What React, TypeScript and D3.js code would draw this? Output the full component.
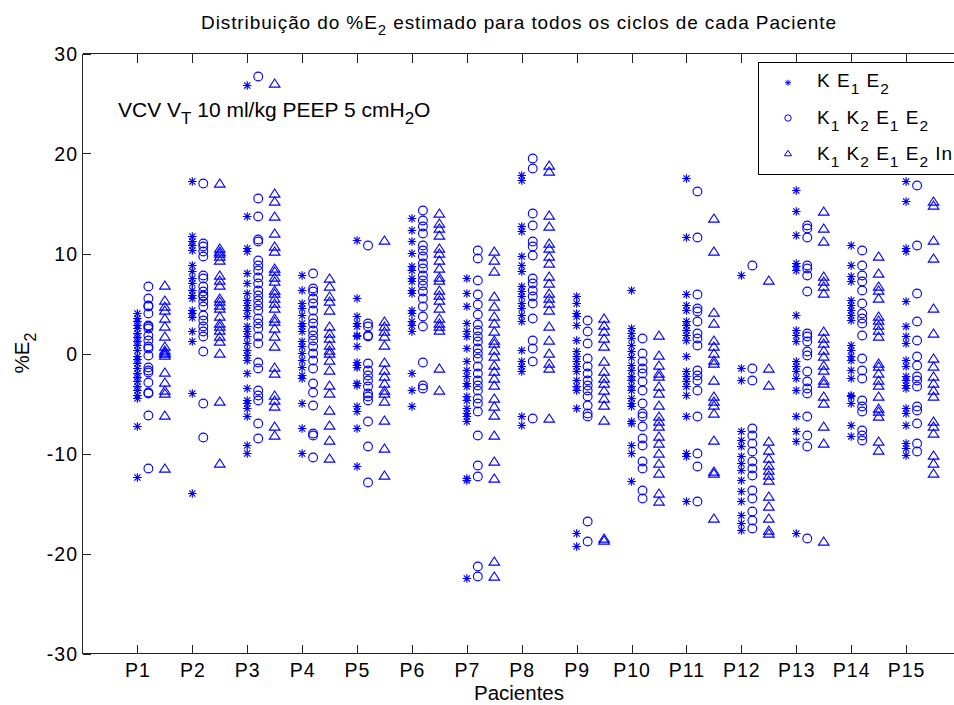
import React from "react";
import * as d3 from "d3";

const patients = ["P1","P2","P3","P4","P5","P6","P7","P8","P9","P10","P11","P12","P13","P14","P15"];
const yTicks = [-30, -20, -10, 0, 10, 20, 30];

// Series "K E1 E2" (asterisks), one array per patient
const seriesKE = [
  [4.0, 3.5, 3.2, 2.8, 2.5, 2.0, 1.6, 1.2, 0.8, 0.3, -0.3, -0.6, -1.0, -1.5, -2.0, -2.4, -2.8, -3.3, -3.7, -4.2, -4.5, -7.3, -12.4],
  [17.2, 11.7, 11.2, 10.8, 10.3, 8.8, 8.2, 7.5, 7.0, 6.3, 5.8, 5.5, 4.3, 4.0, 3.6, 2.2, 1.2, -4.0, -14.0],
  [26.8, 13.7, 10.5, 10.2, 8.0, 7.0, 6.0, 5.3, 4.8, 4.3, 3.7, 2.7, 2.2, 1.7, 1.0, 0.3, -0.2, -0.7, -2.0, -3.5, -4.7, -5.0, -5.5, -6.3, -9.2, -10.0],
  [7.8, 6.3, 5.0, 4.5, 3.8, 3.0, 2.7, 2.2, 1.2, 0.7, 0, -0.7, -1.4, -2.2, -2.5, -5.0, -7.5, -10.0],
  [11.3, 5.5, 3.7, 3.0, 2.7, 1.8, 1.7, 0.7, -0.9, -1.2, -1.4, -3.0, -3.2, -5.3, -5.8, -7.5, -11.3],
  [13.5, 12.3, 11.2, 10.0, 8.7, 8.3, 7.5, 7.2, 6.3, 6.0, 4.3, 4.0, 3.2, 2.8, 2.2, -2.0, -3.7, -5.3],
  [7.5, 6.0, 4.7, 3.0, 2.2, 1.7, 0.5, -0.8, -1.7, -2.3, -3.0, -3.3, -4.3, -4.7, -5.5, -6.0, -6.3, -6.8, -12.5, -12.7, -22.5],
  [17.8, 17.3, 12.7, 12.2, 9.7, 8.8, 8.2, 6.7, 6.2, 5.7, 5.0, 4.5, 3.8, 3.2, 0.3, -0.8, -1.3, -1.8, -6.3, -7.2],
  [5.7, 5.0, 4.0, 3.7, 2.8, 1.3, 0.2, -0.3, -0.8, -1.3, -1.8, -2.7, -3.3, -3.7, -5.5, -18.0, -19.3],
  [6.3, 2.5, 2.0, 1.5, 0.8, 0.2, -0.4, -1.2, -1.7, -2.3, -2.7, -3.3, -3.7, -4.5, -5.0, -5.3, -6.8, -7.0, -9.2, -10.0, -12.8],
  [17.5, 11.6, 5.9, 4.8, 4.3, 3.2, 2.8, 2.3, 1.8, 1.3, -0.3, -1.8, -2.3, -2.8, -3.3, -4.2, -6.3, -10.0, -10.3, -14.8],
  [7.8, -1.5, -2.7, -7.8, -8.7, -9.3, -10.3, -11.0, -11.7, -12.7, -13.8, -14.8, -16.2, -17.0, -17.7],
  [16.3, 14.2, 11.8, 9.0, 8.7, 8.3, 3.8, 2.3, 1.8, 1.2, -0.8, -1.3, -1.8, -2.5, -3.7, -6.3, -7.8, -8.8, -18.0],
  [10.8, 8.8, 7.7, 7.2, 5.3, 4.8, 4.3, 3.8, 3.3, 0.8, 0.3, -0.3, -0.7, -1.7, -2.5, -4.2, -4.3, -5.0, -7.2, -8.3],
  [17.2, 15.2, 10.5, 10.2, 5.2, 2.7, 1.7, 1.0, -0.7, -1.3, -2.3, -2.7, -3.2, -3.5, -5.5, -6.0, -7.2, -9.0, -9.5, -10.2],
];

// Series "K1 K2 E1 E2" (circles)
const seriesKKE = [
  [6.7, 5.5, 4.8, 4.7, 4.0, 2.8, 2.7, 2.5, 1.8, 1.3, 0.7, 0.5, -0.2, -1.4, -1.7, -1.9, -2.9, -3.9, -4.0, -6.2, -11.5],
  [17.0, 11.0, 10.7, 10.2, 9.7, 7.8, 7.5, 6.7, 6.2, 5.8, 5.7, 5.2, 4.7, 3.8, 3.3, 2.7, 2.2, 1.7, 0.2, -5.0, -8.4],
  [27.7, 15.5, 13.7, 11.4, 11.2, 9.3, 8.8, 8.3, 7.6, 7.0, 6.3, 5.8, 5.3, 4.8, 4.3, 3.5, 3.0, 2.5, 1.7, 1.0, -0.9, -1.5, -3.7, -4.2, -4.7, -7.0, -8.5],
  [8.0, 6.5, 6.2, 5.5, 5.0, 4.3, 3.5, 3.0, 2.3, 1.8, 1.3, 0.7, 0, -0.7, -1.5, -3.0, -3.9, -5.2, -8.0, -8.2, -10.4],
  [10.8, 3.0, 2.7, 1.8, 1.7, -1.0, -1.7, -2.2, -2.7, -3.3, -4.0, -4.3, -4.7, -6.8, -9.3, -12.9],
  [14.3, 13.3, 12.7, 12.0, 10.8, 10.3, 9.7, 9.0, 8.5, 7.8, 7.3, 6.8, 6.2, 5.5, 4.7, 3.7, 2.7, -0.9, -3.2, -3.5],
  [10.3, 9.5, 7.3, 5.9, 4.9, 3.9, 2.9, 2.3, 1.7, 1.2, 0.5, 0, -0.5, -1.3, -2.0, -2.7, -3.2, -3.7, -4.5, -5.0, -5.8, -8.2, -11.2, -12.3, -21.3, -22.3],
  [19.5, 18.5, 14.0, 12.8, 11.2, 10.7, 9.8, 7.5, 7.0, 6.3, 5.7, 5.0, 3.5, 1.3, 0.5, -0.8, -6.5],
  [3.3, 2.2, 1.0, -0.5, -1.3, -2.0, -2.7, -3.2, -3.7, -4.3, -5.2, -6.0, -6.3, -16.8, -18.8],
  [1.5, 0, -0.8, -1.5, -2.0, -2.8, -3.7, -5.0, -6.0, -6.3, -7.3, -8.5, -9.2, -10.8, -11.5, -13.7, -14.5],
  [16.2, 11.6, 5.9, 4.5, 4.2, 3.2, 2.0, 1.5, 0.8, -1.7, -2.2, -2.7, -3.7, -6.3, -10.0, -11.3, -14.8],
  [8.8, -1.5, -2.7, -7.5, -8.2, -9.0, -9.8, -10.8, -11.5, -12.2, -13.7, -14.5, -15.8, -16.7, -17.5],
  [12.8, 12.5, 11.6, 8.8, 8.5, 7.8, 6.2, 2.0, 1.7, 1.2, 0.2, -0.2, -1.8, -2.8, -3.5, -4.0, -6.3, -8.2, -9.3, -18.5],
  [10.3, 8.8, 7.8, 7.2, 6.3, 5.0, 4.0, 3.5, 3.0, 1.8, -0.5, -1.7, -2.5, -4.7, -5.3, -5.8, -7.7, -8.2, -8.7],
  [16.8, 10.8, 6.0, 3.2, 1.3, -0.3, -1.2, -2.3, -2.7, -3.3, -5.3, -5.7, -7.0, -9.0, -9.8],
];

// Series "K1 K2 E1 E2 In" (triangles)
const seriesKKEIn = [
  [6.8, 5.3, 4.7, 4.3, 3.5, 2.7, 1.7, 0.7, 0.3, 0.1, 0, -0.2, -1.9, -2.9, -3.7, -4.0, -6.2, -11.5],
  [17.0, 10.5, 10.2, 10.0, 9.7, 9.3, 7.8, 7.3, 6.8, 5.5, 5.2, 4.8, 4.5, 3.7, 3.0, 2.7, 2.3, 1.7, 1.2, 0, -4.8, -11.0],
  [27.0, 16.0, 15.2, 13.7, 12.0, 10.7, 10.2, 8.5, 8.2, 7.6, 7.2, 6.3, 6.0, 5.5, 5.0, 4.5, 3.5, 3.2, 2.5, 1.7, 0.7, -1.4, -2.0, -4.2, -4.7, -5.3, -7.3, -8.2],
  [7.5, 6.7, 5.7, 5.2, 4.3, 2.7, 2.0, 1.5, 0.8, 0.3, 0, -0.7, -1.7, -3.2, -4.0, -5.7, -7.2, -8.7, -10.5],
  [11.3, 3.2, 2.7, 2.2, 1.7, 0.8, -0.9, -1.7, -2.3, -3.0, -3.7, -4.0, -4.8, -6.7, -9.5, -12.2],
  [14.0, 13.0, 12.5, 11.8, 10.5, 10.0, 9.3, 8.5, 7.6, 7.3, 6.3, 5.8, 5.3, 4.5, 3.5, 3.0, 2.7, 2.3, -1.5, -3.7],
  [10.2, 9.3, 8.2, 5.7, 4.7, 3.7, 3.0, 2.2, 1.3, 1.0, 0.3, -0.3, -1.2, -1.8, -2.5, -3.2, -4.5, -5.3, -6.2, -8.2, -10.8, -12.5, -20.8, -22.3],
  [18.8, 18.2, 13.8, 12.7, 11.0, 10.5, 9.7, 9.0, 7.7, 7.0, 6.0, 5.5, 5.0, 4.3, 2.7, 1.3, 0, -1.0, -1.5, -6.5],
  [3.5, 2.8, 2.2, 1.5, 0.7, -0.8, -1.8, -2.5, -3.0, -3.7, -4.5, -5.2, -6.7, -18.5, -18.7],
  [1.8, -0.2, -1.2, -2.0, -2.3, -3.3, -4.0, -5.2, -6.3, -6.8, -7.3, -8.3, -9.0, -10.0, -11.0, -12.0, -14.0, -14.8],
  [13.5, 10.2, 4.1, 3.0, 1.3, 0.7, 0, -0.7, -1.0, -2.7, -4.3, -4.8, -5.2, -6.0, -8.7, -11.8, -12.0, -16.5],
  [7.3, -1.5, -3.2, -8.8, -9.7, -10.5, -11.2, -11.7, -12.2, -12.7, -14.3, -15.3, -16.5, -17.7, -18.0],
  [14.2, 12.5, 11.2, 7.7, 7.2, 6.7, 6.0, 2.2, 1.5, 1.0, 0.3, -0.3, -1.2, -1.7, -2.7, -3.0, -4.3, -5.0, -7.3, -9.0, -18.8],
  [9.7, 8.0, 6.7, 6.3, 5.5, 3.7, 3.3, 2.8, 2.3, 1.7, -1.0, -1.3, -2.0, -2.7, -3.2, -4.3, -5.5, -5.8, -6.3, -8.8, -9.7],
  [15.2, 14.8, 11.3, 9.5, 4.5, 2.0, -0.5, -1.3, -2.3, -3.0, -3.7, -4.3, -6.8, -7.3, -8.0, -10.2, -11.0, -12.0],
];

const W = 954, H = 705;
const FONT = "'Liberation Sans', Arial, Helvetica, sans-serif";
const BLUE = "#0000ff";

const x = d3.scaleLinear().domain([0, 16]).range([82.5, 961]);
const y = d3.scaleLinear().domain([-30, 30]).range([653.5, 53.5]);

function asteriskPath(s: number) {
  const d = s * 0.72;
  return `M${-s},0L${s},0M0,${-s}L0,${s}M${-d},${-d}L${d},${d}M${-d},${d}L${d},${-d}`;
}
function circlePath(r: number) {
  return `M${r},0A${r},${r} 0 1,1 ${-r},0A${r},${r} 0 1,1 ${r},0Z`;
}
function trianglePath(w: number) {
  const h = w * 0.85;
  return `M0,${-h}L${w},${h * 0.8}L${-w},${h * 0.8}Z`;
}

type Seg = { t: string; sub?: boolean };
function Rich({ segs, subSize, subDy }: { segs: Seg[]; subSize: number; subDy: number }) {
  let cur = 0;
  return (
    <>
      {segs.map((s, i) => {
        const target = s.sub ? subDy : 0;
        const dy = target - cur;
        cur = target;
        return (
          <tspan key={i} dy={dy} fontSize={s.sub ? subSize : undefined}>
            {s.t}
          </tspan>
        );
      })}
    </>
  );
}

const seriesDefs = [
  { data: seriesKE, off: 0, path: asteriskPath(4.3), legPath: asteriskPath(3), sw: 1.2 },
  { data: seriesKKE, off: 0.2, path: circlePath(4.4), legPath: circlePath(3.2), sw: 1.1 },
  { data: seriesKKEIn, off: 0.5, path: trianglePath(5.3), legPath: trianglePath(3.6), sw: 1.1 },
];

const legendRows: Seg[][] = [
  [{ t: "K E" }, { t: "1", sub: true }, { t: " E" }, { t: "2", sub: true }],
  [{ t: "K" }, { t: "1", sub: true }, { t: " K" }, { t: "2", sub: true }, { t: " E" }, { t: "1", sub: true }, { t: " E" }, { t: "2", sub: true }],
  [{ t: "K" }, { t: "1", sub: true }, { t: " K" }, { t: "2", sub: true }, { t: " E" }, { t: "1", sub: true }, { t: " E" }, { t: "2", sub: true }, { t: " In" }],
];

export default function App() {
  const x0 = x.range()[0];
  const yb = y(-30), yt = y(30);
  return (
    <svg width={W} height={H} style={{ position: "absolute", left: 0, top: 0, background: "#fff" }} fontFamily={FONT}>
      <rect x={0} y={0} width={W} height={H} fill="#fff" />
      {/* title */}
      <text x={519} y={29} textAnchor="middle" fontSize={19} letterSpacing={0.9} fill="#000">
        <Rich segs={[{ t: "Distribuição do %E" }, { t: "2", sub: true }, { t: " estimado para todos os ciclos de cada Paciente" }]} subSize={15} subDy={6} />
      </text>
      {/* points */}
      <g stroke={BLUE} fill="none">
        {seriesDefs.map((sd, si) =>
          sd.data.map((vals, pi) =>
            vals.map((v, k) => (
              <path key={`${si}-${pi}-${k}`} d={sd.path} strokeWidth={sd.sw} transform={`translate(${x(pi + 1 + sd.off)},${y(v)})`} />
            ))
          )
        )}
      </g>
      {/* axes box */}
      <g stroke="#222" strokeWidth={1} fill="none" shapeRendering="crispEdges">
        <line x1={x0} x2={x0} y1={yt} y2={yb} />
        <line x1={x0} x2={W} y1={yb} y2={yb} />
        <line x1={x0} x2={W} y1={yt} y2={yt} />
        {yTicks.map((t) => (
          <line key={`yt${t}`} x1={x0} x2={x0 + 8} y1={Math.round(y(t)) + 0.5} y2={Math.round(y(t)) + 0.5} />
        ))}
        {patients.map((p, i) => (
          <g key={`xt${p}`}>
            <line x1={Math.round(x(i + 1)) + 0.5} x2={Math.round(x(i + 1)) + 0.5} y1={yb} y2={yb - 9} />
            <line x1={Math.round(x(i + 1)) + 0.5} x2={Math.round(x(i + 1)) + 0.5} y1={yt} y2={yt + 9} />
          </g>
        ))}
      </g>
      {/* y tick labels */}
      <g fontSize={19.5} letterSpacing={1} fill="#000" textAnchor="end">
        {yTicks.map((t) => (
          <text key={`yl${t}`} x={78} y={y(t) + 7}>{t}</text>
        ))}
      </g>
      {/* x tick labels */}
      <g fontSize={19.5} letterSpacing={1} fill="#000" textAnchor="middle">
        {patients.map((p, i) => (
          <text key={`xl${p}`} x={x(i + 1) + 0.5} y={677}>{p}</text>
        ))}
      </g>
      {/* axis labels */}
      <text x={519} y={700} textAnchor="middle" fontSize={20.5} fill="#000">Pacientes</text>
      <text transform="translate(29,353) rotate(-90)" textAnchor="middle" fontSize={20.5} fill="#000">
        <Rich segs={[{ t: "%E" }, { t: "2", sub: true }]} subSize={16} subDy={7} />
      </text>
      {/* annotation */}
      <text x={118} y={117} fontSize={21} fill="#000">
        <Rich segs={[{ t: "VCV V" }, { t: "T", sub: true }, { t: " 10 ml/kg PEEP 5 cmH" }, { t: "2", sub: true }, { t: "O" }]} subSize={17} subDy={7} />
      </text>
      {/* legend */}
      <rect x={758.5} y={62.5} width={200} height={112} fill="#fff" stroke="#000" strokeWidth={1} shapeRendering="crispEdges" />
      {seriesDefs.map((sd, i) => (
        <g key={`leg${i}`}>
          <path d={sd.legPath} transform={`translate(788,${82.7 + i * 35.3})`} stroke={BLUE} strokeWidth={1} fill="none" />
          <text x={817} y={87 + i * 36.7} fontSize={19} letterSpacing={1} fill="#000">
            <Rich segs={legendRows[i]} subSize={15.5} subDy={7} />
          </text>
        </g>
      ))}
    </svg>
  );
}
